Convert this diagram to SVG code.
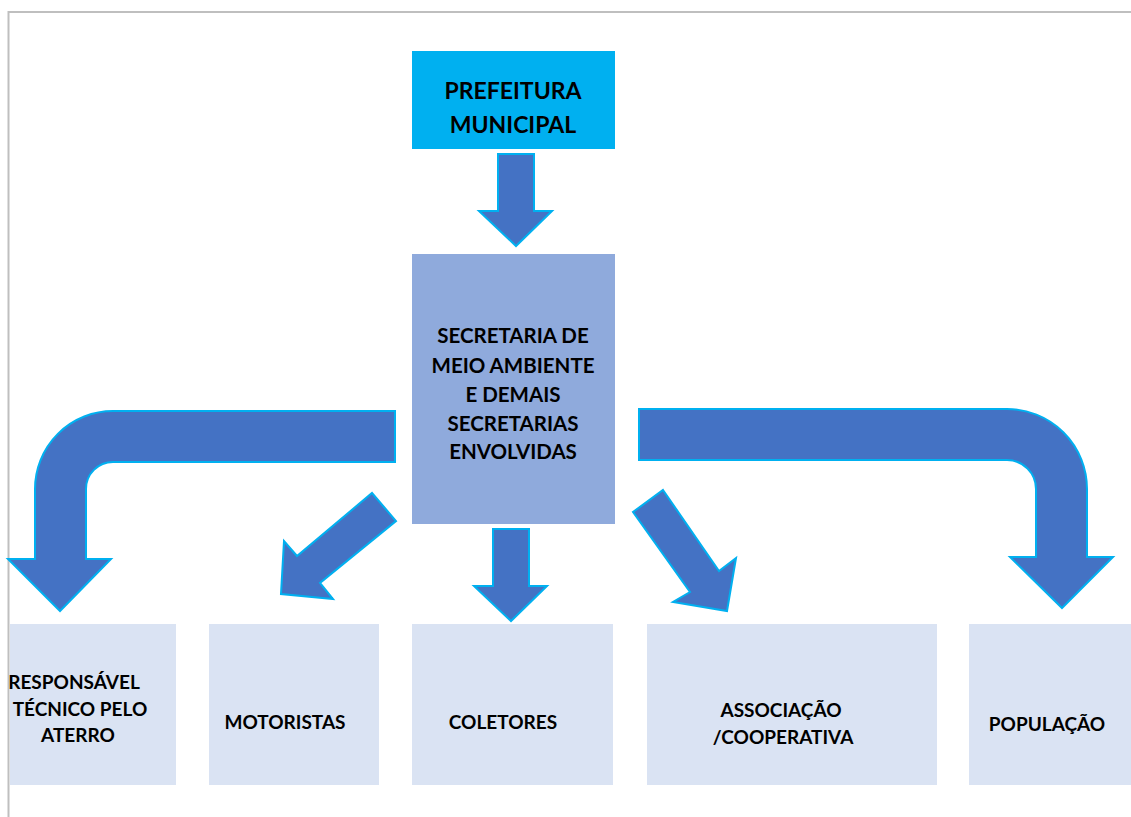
<svg xmlns="http://www.w3.org/2000/svg" width="1131" height="817" viewBox="0 0 1131 817">
<style>
.arrow{fill:#4472C4;stroke:#00B0F0;stroke-width:2;stroke-linejoin:miter}
.t{font-family:Lato,"Liberation Sans",Arial,sans-serif;font-weight:bold;fill:#000;text-anchor:middle}
.big{font-size:23px}
.mid{font-size:20.5px}
.sm{font-size:19px}
.leaf{fill:#DAE3F3}
</style>
<rect width="1131" height="817" fill="#fff"/>
<path d="M8.5 817 V12 H1131" fill="none" stroke="#BFBFBF" stroke-width="2"/>
<g id="connectors">
<polygon class="arrow" points="498,154 534,154 534,211 552,211 516,246 479,211 498,211"/>
<polygon class="arrow" points="493,529 529,529 529,586 547,586 511,621 474,586 493,586"/>
<path class="arrow" d="M395 411 H113 A78 78 0 0 0 35 489 V559 H8 L60 611 L111 559 H86 V489 A27 27 0 0 1 113 462 H395 Z"/>
<path class="arrow" d="M639 409 H1007 A80 80 0 0 1 1087 489 V557 H1113 L1062 608 L1010 557 H1036 V489 A29 29 0 0 0 1007 460 H639 Z"/>
<polygon class="arrow" points="372,493 396,521 320,583 333,599 281,594 284,541 297,556"/>
<polygon class="arrow" points="663,490 719,571 736,558 727,611 673,602 690,592 633,512"/>
</g>
<g id="prefeitura">
<rect x="412" y="51" width="203" height="98" fill="#00B0F0"/>
<text class="t big" x="513" y="99">PREFEITURA</text>
<text class="t big" x="513" y="133">MUNICIPAL</text>
</g>
<g id="secretaria">
<rect x="412" y="254" width="203" height="270" fill="#8FAADC"/>
<text class="t mid" x="513" y="343">SECRETARIA DE</text>
<text class="t mid" x="513" y="373">MEIO AMBIENTE</text>
<text class="t mid" x="513" y="402">E DEMAIS</text>
<text class="t mid" x="513" y="431">SECRETARIAS</text>
<text class="t mid" x="513" y="459">ENVOLVIDAS</text>
</g>
<g id="responsavel">
<rect class="leaf" x="10" y="624" width="166" height="161"/>
<text class="t sm" x="74" y="689">RESPONSÁVEL</text>
<text class="t sm" x="80" y="716">TÉCNICO PELO</text>
<text class="t sm" x="78" y="742">ATERRO</text>
</g>
<g id="motoristas">
<rect class="leaf" x="209" y="624" width="170" height="161"/>
<text class="t sm" x="285" y="729">MOTORISTAS</text>
</g>
<g id="coletores">
<rect class="leaf" x="412" y="624" width="201" height="161"/>
<text class="t sm" x="503" y="729">COLETORES</text>
</g>
<g id="associacao">
<rect class="leaf" x="647" y="624" width="290" height="161"/>
<text class="t sm" x="781" y="717">ASSOCIAÇÃO</text>
<text class="t sm" x="783" y="744">/COOPERATIVA</text>
</g>
<g id="populacao">
<rect class="leaf" x="969" y="624" width="162" height="161"/>
<text class="t sm" x="1047" y="731">POPULAÇÃO</text>
</g>
</svg>
